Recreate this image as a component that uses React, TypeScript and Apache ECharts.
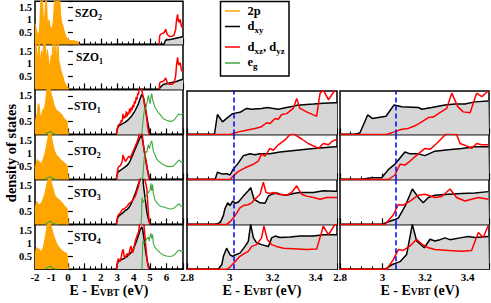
import React, { useEffect, useRef } from "react";
import * as echarts from "echarts";

const FONT = "'Liberation Serif', 'Times New Roman', Times, serif";
const ORANGE = "#ffa500";
const BLACK = "#000000";
const RED = "#ff0000";
const GREEN = "#3fa83f";
const GRAY = "#d6d6d6";
const BLUE = "#0000ff";

// ---------- labels ----------
const leftNames = ["SZO", "SZO", "STO", "STO", "STO", "STO"];
const leftSubs = ["2", "1", "1", "2", "3", "4"];
const legendNames = ["2p", "dxy", "dxz, dyz", "eg"];
const xTitleMain = "E - E";
const xTitleSub = "VBT";
const xTitleTail = " (eV)";
const yTitle = "density of states";

// vertical markers (eV)
const midMark = 3.015;
const rightMark = 3.055;

// ---------- left column data (E in eV, DOS) ----------
const szo2_2p = [[-2.0,0.85],[-1.95,0.7],[-1.9,0.55],[-1.85,0.45],[-1.8,0.4],[-1.75,0.5],[-1.7,0.9],[-1.65,1.9],[-1.6,1.3],[-1.55,2.0],[-1.5,1.1],[-1.45,0.9],[-1.4,1.2],[-1.35,2.0],[-1.3,1.9],[-1.25,0.9],[-1.2,0.75],[-1.15,1.0],[-1.1,0.8],[-1.05,0.55],[-1.0,0.7],[-0.95,0.6],[-0.9,0.9],[-0.85,1.3],[-0.8,2.0],[-0.75,1.4],[-0.7,2.0],[-0.65,1.2],[-0.6,2.0],[-0.55,1.5],[-0.5,2.0],[-0.45,1.3],[-0.4,1.0],[-0.35,0.85],[-0.3,0.75],[-0.25,0.6],[-0.2,0.5],[-0.15,0.4],[-0.1,0.3],[-0.05,0.28],[0.0,0.22],[0.1,0.17],[0.2,0.16],[0.3,0.17],[0.4,0.15],[0.5,0.14],[0.6,0.12],[0.65,0.05],[0.7,0]];
const szo2_dxy = [[2.8,0],[5.85,0],[5.9,0.12],[5.95,0.18],[6.1,0.2],[6.3,0.22],[6.5,0.25],[6.7,0.28],[6.85,0.3],[7.0,0.33]];
const szo2_dxz = [[5.55,0],[5.58,0.35],[5.65,0.42],[5.75,0.45],[5.85,0.48],[5.95,0.62],[6.02,0.45],[6.1,0.36],[6.2,0.33],[6.35,0.34],[6.45,0.38],[6.55,0.6],[6.6,0.95],[6.67,1.22],[6.72,0.95],[6.78,0.9],[6.83,1.02],[6.9,0.75],[6.95,0.7],[7.0,0.7]];

const szo1_2p = [[-2.0,2.0],[-1.95,1.9],[-1.9,1.5],[-1.85,1.25],[-1.8,1.4],[-1.75,1.9],[-1.7,1.3],[-1.65,1.1],[-1.6,1.5],[-1.55,1.2],[-1.5,1.6],[-1.45,1.9],[-1.4,2.0],[-1.35,1.4],[-1.3,1.2],[-1.25,1.55],[-1.2,1.3],[-1.15,1.0],[-1.1,0.9],[-1.05,1.2],[-1.0,1.35],[-0.95,1.1],[-0.9,1.9],[-0.85,1.3],[-0.8,1.5],[-0.75,1.95],[-0.7,1.4],[-0.65,1.2],[-0.6,1.8],[-0.55,1.1],[-0.5,1.0],[-0.45,0.8],[-0.4,0.7],[-0.35,0.6],[-0.3,0.5],[-0.25,0.35],[-0.2,0.28],[-0.1,0.15],[0.0,0.08],[0.05,0]];
const szo1_dxy = [[2.8,0],[5.55,0],[5.6,0.06],[5.7,0.14],[5.8,0.19],[5.9,0.21],[6.0,0.22],[6.2,0.25],[6.4,0.28],[6.6,0.31],[6.8,0.36],[7.0,0.4]];
const szo1_dxz = [[5.55,0],[5.58,0.25],[5.65,0.3],[5.75,0.3],[5.85,0.35],[5.95,0.45],[6.02,0.3],[6.1,0.22],[6.2,0.2],[6.35,0.2],[6.45,0.25],[6.55,0.5],[6.6,0.9],[6.67,1.25],[6.72,1.0],[6.78,0.95],[6.83,1.05],[6.9,0.78],[6.95,0.7],[7.0,0.72]];

const sto1_2p = [[-2.0,0.55],[-1.95,0.6],[-1.9,0.7],[-1.85,0.9],[-1.8,1.2],[-1.75,1.15],[-1.7,0.8],[-1.65,0.65],[-1.6,0.75],[-1.55,0.9],[-1.5,1.0],[-1.45,0.95],[-1.4,1.1],[-1.35,1.3],[-1.3,1.6],[-1.25,1.9],[-1.2,2.0],[-1.15,1.85],[-1.1,2.0],[-1.05,1.7],[-1.0,1.5],[-0.95,1.45],[-0.9,1.3],[-0.85,1.15],[-0.8,1.1],[-0.75,1.0],[-0.7,0.95],[-0.65,0.9],[-0.6,0.92],[-0.5,0.85],[-0.4,0.8],[-0.3,0.7],[-0.2,0.6],[-0.1,0.55],[-0.05,0.5],[0.0,0.15],[0.03,0]];
const sto1_dxy = [[2.8,0],[2.95,0],[2.98,0.15],[3.05,0.31],[3.15,0.36],[3.27,0.4],[3.47,0.47],[3.68,0.58],[3.88,0.72],[4.08,0.92],[4.29,1.19],[4.39,1.39],[4.49,1.55],[4.59,1.45],[4.69,1.12],[4.79,0.72],[4.9,0.31],[5.0,0],[7.0,0]];
const sto1_dxz = [[2.95,0],[3.0,0.2],[3.05,0.35],[3.1,0.38],[3.2,0.45],[3.25,0.55],[3.3,0.5],[3.35,0.8],[3.4,0.62],[3.45,0.72],[3.5,0.65],[3.55,0.9],[3.6,0.7],[3.65,0.85],[3.7,0.78],[3.75,1.0],[3.8,0.85],[3.85,1.05],[3.9,0.95],[3.95,1.15],[4.0,1.05],[4.05,1.3],[4.1,1.2],[4.15,1.45],[4.2,1.35],[4.25,1.6],[4.3,1.55],[4.35,1.9],[4.4,1.8],[4.45,2.0],[4.5,1.7],[4.55,1.55],[4.6,1.4],[4.65,1.2],[4.7,1.0],[4.75,0.85],[4.8,0.6],[4.85,0.3],[4.9,0.1],[4.95,0]];
const sto1_eg = [[-1.4,0],[-1.3,0.04],[-1.15,0.1],[-1.05,0.12],[-0.95,0.06],[-0.8,0.02],[-0.65,0],[-0.6,null],[4.4,0],[4.5,0.05],[4.55,0.4],[4.6,0.7],[4.65,0.95],[4.7,1.0],[4.75,1.05],[4.8,1.2],[4.85,1.4],[4.9,1.52],[4.95,1.3],[5.0,1.2],[5.05,1.45],[5.1,1.6],[5.15,1.35],[5.2,1.26],[5.3,1.05],[5.4,0.95],[5.5,0.85],[5.6,0.78],[5.7,0.7],[5.8,0.61],[6.0,0.55],[6.2,0.51],[6.4,0.53],[6.5,0.6],[6.6,0.68],[6.7,0.76],[6.75,0.8],[6.82,0.76],[6.9,0.78],[7.0,0.82]];

const sto2_2p = [[-2.0,0.45],[-1.95,0.55],[-1.9,0.7],[-1.85,0.78],[-1.8,0.72],[-1.7,0.68],[-1.6,0.6],[-1.5,0.8],[-1.4,1.0],[-1.3,1.3],[-1.25,1.5],[-1.2,1.65],[-1.15,1.9],[-1.1,2.0],[-1.05,1.85],[-1.0,1.7],[-0.95,1.5],[-0.9,1.35],[-0.85,1.2],[-0.8,1.1],[-0.7,0.95],[-0.6,0.9],[-0.5,0.82],[-0.4,0.75],[-0.3,0.7],[-0.2,0.65],[-0.1,0.58],[-0.05,0.55],[0.0,0.2],[0.03,0]];
const sto2_dxy = [[2.8,0],[2.95,0],[2.98,0.15],[3.05,0.3],[3.2,0.36],[3.4,0.45],[3.6,0.55],[3.7,0.62],[3.8,0.75],[3.9,0.9],[4.0,1.05],[4.1,1.2],[4.2,1.35],[4.3,1.5],[4.4,1.65],[4.48,1.72],[4.55,1.5],[4.65,1.1],[4.75,0.7],[4.85,0.35],[4.95,0.08],[5.0,0],[7.0,0]];
const sto2_dxz = [[2.95,0],[3.0,0.25],[3.05,0.45],[3.1,0.5],[3.2,0.55],[3.3,0.7],[3.35,0.95],[3.4,0.85],[3.5,0.7],[3.6,0.8],[3.7,0.9],[3.8,0.85],[3.9,1.0],[4.0,1.15],[4.1,1.3],[4.2,1.45],[4.3,1.65],[4.35,1.85],[4.4,2.0],[4.5,1.9],[4.55,1.6],[4.6,1.3],[4.7,0.9],[4.8,0.5],[4.9,0.15],[4.95,0]];
const sto2_eg = [[-1.4,0],[-1.3,0.04],[-1.15,0.09],[-1.05,0.11],[-0.95,0.06],[-0.8,0.02],[-0.65,0],[-0.6,null],[4.45,0],[4.55,0.1],[4.6,0.5],[4.65,0.9],[4.7,0.95],[4.75,1.1],[4.8,1.05],[4.85,1.25],[4.9,1.35],[4.95,1.2],[5.0,1.3],[5.05,1.45],[5.1,1.5],[5.15,1.3],[5.2,1.1],[5.3,0.95],[5.4,0.8],[5.5,0.72],[5.6,0.68],[5.7,0.62],[5.8,0.57],[6.0,0.52],[6.2,0.5],[6.4,0.52],[6.5,0.58],[6.6,0.65],[6.7,0.72],[6.78,0.76],[6.85,0.7],[6.95,0.66],[7.0,0.65]];

const sto3_2p = [[-2.0,0.55],[-1.95,0.75],[-1.9,0.9],[-1.85,0.85],[-1.8,0.75],[-1.7,0.8],[-1.6,0.85],[-1.5,1.0],[-1.4,1.2],[-1.3,1.5],[-1.2,1.8],[-1.15,2.0],[-1.1,1.9],[-1.05,2.0],[-1.0,1.6],[-0.9,1.4],[-0.8,1.15],[-0.7,1.05],[-0.6,1.0],[-0.5,0.95],[-0.4,0.88],[-0.3,0.8],[-0.2,0.72],[-0.1,0.65],[-0.05,0.62],[0.0,0.2],[0.03,0]];
const sto3_dxy = [[2.8,0],[2.95,0],[2.98,0.15],[3.05,0.3],[3.2,0.38],[3.35,0.45],[3.5,0.55],[3.6,0.58],[3.7,0.65],[3.8,0.75],[3.9,0.88],[4.0,1.05],[4.1,1.2],[4.2,1.4],[4.3,1.6],[4.4,1.75],[4.45,1.85],[4.55,1.9],[4.6,1.5],[4.7,1.0],[4.8,0.5],[4.9,0.2],[5.0,0],[7.0,0]];
const sto3_dxz = [[2.95,0],[3.0,0.2],[3.05,0.35],[3.1,0.4],[3.2,0.45],[3.3,0.58],[3.4,0.6],[3.5,0.65],[3.6,0.7],[3.7,0.8],[3.8,0.85],[3.9,0.9],[4.0,1.0],[4.1,1.1],[4.2,1.3],[4.3,1.5],[4.35,1.7],[4.4,1.9],[4.5,2.0],[4.6,1.9],[4.7,1.7],[4.8,1.4],[4.85,0.9],[4.9,0.4],[4.95,0.1],[5.0,0]];
const sto3_eg = [[-1.4,0],[-1.3,0.04],[-1.15,0.1],[-1.05,0.12],[-0.95,0.06],[-0.8,0.02],[-0.65,0],[-0.6,null],[4.45,0],[4.48,0.3],[4.5,0.9],[4.52,1.05],[4.55,0.85],[4.6,0.9],[4.7,1.0],[4.8,1.15],[4.9,1.25],[5.0,1.35],[5.05,1.6],[5.1,1.3],[5.15,1.55],[5.2,1.2],[5.3,0.95],[5.4,0.85],[5.5,0.78],[5.6,0.72],[5.8,0.68],[6.0,0.64],[6.2,0.6],[6.4,0.62],[6.5,0.66],[6.6,0.72],[6.7,0.78],[6.78,0.8],[6.85,0.72],[7.0,0.7]];

const sto4_2p = [[-2.0,0.6],[-1.95,0.72],[-1.9,0.85],[-1.85,0.82],[-1.8,0.78],[-1.75,0.8],[-1.7,0.72],[-1.6,0.7],[-1.5,0.85],[-1.4,1.15],[-1.3,1.55],[-1.25,1.8],[-1.2,2.0],[-1.1,2.0],[-1.05,1.75],[-1.0,1.65],[-0.9,1.38],[-0.8,1.2],[-0.7,1.04],[-0.6,0.9],[-0.5,0.84],[-0.4,0.75],[-0.3,0.7],[-0.2,0.66],[-0.1,0.64],[-0.05,0.6],[0.0,0.2],[0.03,0]];
const sto4_dxy = [[2.8,0],[2.95,0],[3.0,0.2],[3.05,0.3],[3.2,0.36],[3.4,0.42],[3.6,0.5],[3.7,0.57],[3.8,0.62],[3.9,0.7],[4.0,0.82],[4.1,0.98],[4.2,1.15],[4.3,1.35],[4.4,1.55],[4.5,1.65],[4.55,1.55],[4.65,1.1],[4.75,0.6],[4.85,0.25],[4.95,0.05],[5.0,0],[7.0,0]];
const sto4_dxz = [[2.97,0],[3.02,0.3],[3.07,0.42],[3.12,0.35],[3.17,0.3],[3.25,0.5],[3.32,0.72],[3.37,0.78],[3.42,0.5],[3.47,0.45],[3.55,0.55],[3.62,0.62],[3.7,0.55],[3.75,0.7],[3.8,0.85],[3.85,0.9],[3.9,0.7],[3.95,0.65],[4.0,0.8],[4.1,1.1],[4.2,1.3],[4.3,1.45],[4.35,1.7],[4.4,1.9],[4.5,2.0],[4.6,1.9],[4.7,1.2],[4.78,0.6],[4.85,0.2],[4.9,0.05],[4.95,0]];
const sto4_eg = [[-1.4,0],[-1.3,0.04],[-1.15,0.1],[-1.05,0.12],[-0.95,0.06],[-0.8,0.02],[-0.65,0],[-0.6,null],[4.5,0],[4.53,0.5],[4.55,1.1],[4.6,1.0],[4.7,1.05],[4.8,1.2],[4.9,1.25],[4.95,1.1],[5.0,1.3],[5.05,1.4],[5.1,1.2],[5.15,1.35],[5.2,1.0],[5.3,0.85],[5.4,0.78],[5.5,0.72],[5.6,0.65],[5.8,0.56],[6.0,0.52],[6.2,0.5],[6.4,0.53],[6.5,0.58],[6.6,0.65],[6.7,0.72],[6.8,0.74],[6.9,0.7],[7.0,0.72]];

// ---------- middle column (zoom near band edge, arbitrary units 0..1) ----------
const mid1_dxy = [[2.8,0],[2.928,0],[2.942,0.46],[2.966,0.29],[2.985,0.37],[3.013,0.48],[3.047,0.51],[3.078,0.6],[3.102,0.58],[3.148,0.6],[3.175,0.62],[3.203,0.6],[3.226,0.58],[3.265,0.62],[3.296,0.65],[3.312,0.67],[3.39,0.7],[3.436,0.72],[3.491,0.73],[3.5,0.73]];
const mid1_dxz = [[2.8,0],[3.001,0],[3.04,0.06],[3.078,0.1],[3.117,0.14],[3.148,0.18],[3.172,0.27],[3.187,0.25],[3.211,0.37],[3.226,0.35],[3.242,0.46],[3.265,0.48],[3.296,0.6],[3.312,0.83],[3.327,0.6],[3.358,0.52],[3.39,0.45],[3.405,0.42],[3.421,0.95],[3.436,1.02],[3.46,0.8],[3.491,1.02],[3.5,1.05]];
const mid2_dxy = [[2.8,0],[2.931,0],[2.942,0.16],[2.966,0.12],[2.985,0.13],[3.001,0.1],[3.016,0.23],[3.04,0.37],[3.063,0.53],[3.078,0.55],[3.094,0.57],[3.117,0.55],[3.141,0.57],[3.187,0.57],[3.234,0.61],[3.312,0.65],[3.39,0.69],[3.491,0.73],[3.5,0.73]];
const mid2_dxz = [[2.8,0],[3.001,0],[3.016,0.08],[3.04,0.18],[3.071,0.26],[3.11,0.34],[3.133,0.41],[3.148,0.57],[3.164,0.52],[3.187,0.69],[3.203,0.65],[3.226,0.77],[3.257,0.88],[3.281,1.0],[3.296,1.02],[3.335,0.9],[3.366,0.8],[3.397,0.73],[3.413,0.69],[3.436,0.8],[3.46,0.77],[3.475,0.84],[3.491,0.88],[3.5,0.88]];
const mid3_dxy = [[2.8,0],[2.931,0],[2.955,0.04],[2.97,0.2],[2.977,0.35],[2.99,0.48],[3.001,0.42],[3.013,0.52],[3.024,0.47],[3.04,0.5],[3.063,0.63],[3.086,0.75],[3.097,0.82],[3.113,0.56],[3.141,0.48],[3.164,0.47],[3.18,0.63],[3.195,0.67],[3.218,0.7],[3.234,0.67],[3.265,0.65],[3.296,0.69],[3.327,0.71],[3.39,0.71],[3.436,0.75],[3.491,0.74],[3.5,0.74]];
const mid3_dxz = [[2.8,0],[2.985,0],[3.001,0.06],[3.016,0.14],[3.032,0.25],[3.047,0.37],[3.063,0.42],[3.086,0.44],[3.102,0.48],[3.117,0.56],[3.141,0.67],[3.156,0.94],[3.169,0.71],[3.187,0.69],[3.203,0.71],[3.226,0.67],[3.265,0.65],[3.288,0.71],[3.312,0.86],[3.335,0.67],[3.358,0.63],[3.39,0.6],[3.421,0.56],[3.452,0.6],[3.491,0.6],[3.5,0.6]];
const mid4_dxy = [[2.8,0],[2.946,0],[2.962,0.1],[2.97,0.29],[2.985,0.47],[3.001,0.32],[3.013,0.29],[3.024,0.32],[3.047,0.36],[3.071,0.51],[3.086,0.62],[3.097,1.0],[3.11,0.7],[3.125,0.59],[3.148,0.55],[3.18,0.51],[3.195,0.7],[3.211,0.74],[3.234,0.71],[3.281,0.72],[3.327,0.74],[3.39,0.74],[3.436,0.77],[3.491,0.77],[3.5,0.77]];
const mid4_dxz = [[2.8,0],[2.985,0],[3.001,0.05],[3.024,0.17],[3.047,0.29],[3.071,0.36],[3.086,0.4],[3.102,0.51],[3.125,0.55],[3.148,0.7],[3.159,0.96],[3.175,0.66],[3.195,0.55],[3.218,0.51],[3.25,0.47],[3.296,0.46],[3.358,0.44],[3.405,0.45],[3.436,0.96],[3.46,0.77],[3.491,1.0],[3.5,1.0]];

// ---------- right column ----------
const right1_dxy = [[2.8,0],[2.87,0],[2.894,0.04],[2.93,0.45],[2.952,0.37],[2.98,0.39],[3.016,0.42],[3.054,0.68],[3.09,0.64],[3.168,0.62],[3.184,0.58],[3.231,0.62],[3.293,0.68],[3.34,0.7],[3.387,0.7],[3.434,0.75],[3.497,0.77],[3.5,0.77]];
const right1_dxz = [[2.8,0],[3.019,0],[3.055,0.06],[3.09,0.12],[3.121,0.14],[3.152,0.2],[3.184,0.29],[3.215,0.39],[3.238,0.4],[3.262,0.48],[3.301,0.6],[3.325,0.95],[3.353,0.64],[3.379,0.52],[3.411,0.5],[3.442,0.95],[3.466,0.87],[3.497,1.0],[3.5,1.0]];
const right2_dxy = [[2.8,0],[2.902,0],[2.925,0.02],[2.949,0.04],[2.996,0.04],[3.027,0.22],[3.058,0.34],[3.105,0.61],[3.129,0.57],[3.168,0.57],[3.199,0.53],[3.246,0.63],[3.309,0.66],[3.372,0.69],[3.434,0.73],[3.497,0.73],[3.5,0.73]];
const right2_dxz = [[2.8,0],[3.027,0],[3.058,0.1],[3.082,0.34],[3.105,0.32],[3.129,0.41],[3.168,0.57],[3.199,0.69],[3.223,0.67],[3.254,0.8],[3.285,0.95],[3.301,1.02],[3.348,1.0],[3.364,0.8],[3.403,0.73],[3.418,0.69],[3.442,0.8],[3.466,0.77],[3.497,0.77],[3.5,0.77]];
const right3_dxy = [[2.8,0],[2.996,0],[3.027,0.06],[3.058,0.11],[3.074,0.14],[3.105,0.4],[3.14,0.79],[3.168,0.6],[3.191,0.48],[3.215,0.6],[3.246,0.65],[3.309,0.67],[3.372,0.69],[3.434,0.7],[3.497,0.73],[3.5,0.73]];
const right3_dxz = [[2.8,0],[3.011,0],[3.05,0.21],[3.074,0.44],[3.097,0.43],[3.129,0.52],[3.168,0.65],[3.199,0.67],[3.246,0.6],[3.278,0.62],[3.317,0.79],[3.348,0.6],[3.387,0.52],[3.418,0.56],[3.45,0.6],[3.497,0.56],[3.5,0.56]];
const right4_dxy = [[2.8,0],[3.011,0],[3.043,0.1],[3.082,0.17],[3.113,0.33],[3.14,1.0],[3.16,0.63],[3.196,0.48],[3.223,0.67],[3.246,0.63],[3.27,0.66],[3.293,0.7],[3.317,0.66],[3.364,0.7],[3.403,0.73],[3.434,0.71],[3.497,0.73],[3.5,0.73]];
const right4_dxz = [[2.8,0],[3.019,0],[3.05,0.21],[3.074,0.44],[3.097,0.42],[3.129,0.52],[3.16,0.67],[3.184,0.56],[3.215,0.48],[3.246,0.44],[3.309,0.42],[3.372,0.4],[3.418,0.42],[3.45,0.82],[3.473,0.71],[3.497,0.98],[3.5,0.98]];

const leftSets = [
  { p2: szo2_2p, dxy: szo2_dxy, dxz: szo2_dxz, eg: null },
  { p2: szo1_2p, dxy: szo1_dxy, dxz: szo1_dxz, eg: null },
  { p2: sto1_2p, dxy: sto1_dxy, dxz: sto1_dxz, eg: sto1_eg },
  { p2: sto2_2p, dxy: sto2_dxy, dxz: sto2_dxz, eg: sto2_eg },
  { p2: sto3_2p, dxy: sto3_dxy, dxz: sto3_dxz, eg: sto3_eg },
  { p2: sto4_2p, dxy: sto4_dxy, dxz: sto4_dxz, eg: sto4_eg },
];
const midSets = [
  { dxy: mid1_dxy, dxz: mid1_dxz },
  { dxy: mid2_dxy, dxz: mid2_dxz },
  { dxy: mid3_dxy, dxz: mid3_dxz },
  { dxy: mid4_dxy, dxz: mid4_dxz },
];
const rightSets = [
  { dxy: right1_dxy, dxz: right1_dxz },
  { dxy: right2_dxy, dxz: right2_dxz },
  { dxy: right3_dxy, dxz: right3_dxz },
  { dxy: right4_dxy, dxz: right4_dxz },
];

// ---------- layout ----------
const BOTTOM = 269.3;
const leftTops = [1.2, 44.6, 89.4, 134.5, 179.5, 224.4];
const sideTops = [91, 134.5, 179.5, 224.4];
const LEFT_COL = { left: 35, width: 148 };
const MID_COL = { left: 187, width: 150 };
const RIGHT_COL = { left: 340, width: 149 };

const labelStyle = { fontFamily: FONT, fontWeight: "bold", fontSize: 11, color: "#000" };

function buildOption() {
  const grid: any[] = [];
  const xAxis: any[] = [];
  const yAxis: any[] = [];
  const series: any[] = [];

  const addGrid = (col: any, top: number, h: number) => {
    grid.push({
      left: col.left, top, width: col.width, height: h,
      show: true, borderColor: "#000", borderWidth: 1.5, backgroundColor: "transparent",
      containLabel: false, outerBoundsMode: "none",
    });
    return grid.length - 1;
  };
  const line = (data: any, xi: number, yi: number, color: string, width: number, area?: string, extra?: any) => {
    series.push({
      type: "line", xAxisIndex: xi, yAxisIndex: yi, data,
      symbol: "none", showSymbol: false, silent: true, clip: true,
      lineStyle: { color, width }, itemStyle: { color },
      areaStyle: area ? { color: area, opacity: 1 } : undefined,
      emphasis: { disabled: true },
      ...(extra || {}),
    });
  };

  // left column
  leftTops.forEach((t, i) => {
    const h = (i < leftTops.length - 1 ? leftTops[i + 1] : BOTTOM) - t;
    const gi = addGrid(LEFT_COL, t, h);
    const isBottom = i === leftTops.length - 1;
    xAxis.push({
      type: "value", gridIndex: gi, min: -2, max: 7, interval: 1,
      axisLine: { show: false }, splitLine: { show: false },
      axisTick: { show: true, inside: true, length: 6, lineStyle: { color: "#000", width: 1.2 } },
      minorTick: { show: true, splitNumber: 3, length: 3, lineStyle: { color: "#000", width: 1 } },
      axisLabel: { show: isBottom, margin: 2, ...labelStyle, formatter: (v: number) => (v > 6.5 ? "" : String(v)) },
    });
    const xi = xAxis.length - 1;
    yAxis.push({
      type: "value", gridIndex: gi, min: 0, max: 1.75, interval: 0.5,
      axisLine: { show: false }, splitLine: { show: false },
      axisTick: { show: true, inside: true, length: 5, lineStyle: { color: "#000", width: 1.2 } },
      axisLabel: { show: true, margin: 3, ...labelStyle, fontSize: 10.5, formatter: (v: number) => (v <= 0 || v > 1.6 ? "" : String(v)) },
    });
    const yi = yAxis.length - 1;
    const s = leftSets[i];
    line(s.p2, xi, yi, ORANGE, 1, ORANGE);
    line(s.dxy, xi, yi, BLACK, 1.5, GRAY);
    line(s.dxz, xi, yi, RED, 1.5);
    if (s.eg) line(s.eg, xi, yi, GREEN, 1.1);
  });

  // middle & right columns
  const side = (col: any, sets: any[], mark: number) => {
    sideTops.forEach((t, i) => {
      const h = (i < sideTops.length - 1 ? sideTops[i + 1] : BOTTOM) - t;
      const gi = addGrid(col, t, h);
      const isBottom = i === sideTops.length - 1;
      xAxis.push({
        type: "value", gridIndex: gi, min: 2.8, max: 3.5, interval: 0.05, position: "bottom",
        axisLine: { show: false }, splitLine: { show: false },
        axisTick: { show: true, inside: true, length: 3, lineStyle: { color: "#000", width: 1 } },
        axisLabel: {
          show: isBottom, margin: 2, ...labelStyle,
          formatter: (v: number) => {
            const k = v / 0.2;
            if (Math.abs(k - Math.round(k)) > 1e-4 || v > 3.45) return "";
            return String(Math.round(v * 10) / 10);
          },
        },
      });
      const xi = xAxis.length - 1;
      xAxis.push({
        type: "value", gridIndex: gi, min: 2.8, max: 3.5, interval: 0.2, position: "bottom",
        axisLine: { show: false }, splitLine: { show: false }, axisLabel: { show: false },
        axisTick: { show: true, inside: true, length: 6, lineStyle: { color: "#000", width: 1.2 } },
      });
      yAxis.push({ type: "value", gridIndex: gi, min: 0, max: 1, show: false, splitLine: { show: false } });
      const yi = yAxis.length - 1;
      const s = sets[i];
      line(s.dxy, xi, yi, BLACK, 1.5, GRAY, {
        markLine: {
          silent: true, symbol: ["none", "none"], label: { show: false },
          lineStyle: { color: BLUE, type: [5, 3], width: 1.5 },
          data: [{ xAxis: mark }],
        },
      });
      line(s.dxz, xi, yi, RED, 1.5);
    });
  };
  side(MID_COL, midSets, midMark);
  side(RIGHT_COL, rightSets, rightMark);

  // graphic texts
  const richText = (main: number, sub: number, lh: number, slh: number) => ({
    m: { fontFamily: FONT, fontWeight: "bold", fontSize: main, lineHeight: lh, fill: "#000" },
    s: { fontFamily: FONT, fontWeight: "bold", fontSize: sub, lineHeight: slh, verticalAlign: "bottom", fill: "#000" },
  });
  const labelPos = [[75, 13.3], [76, 57.3], [74, 106], [74, 151], [74, 192.5], [74, 236.7]];
  const graphics: any[] = [];
  leftNames.forEach((n, i) => {
    graphics.push({
      type: "text", x: labelPos[i][0], y: labelPos[i][1], silent: true,
      style: { text: `{m|${n}}{s|${leftSubs[i]}}`, rich: richText(11.5, 8, 17, 8), align: "left", verticalAlign: "middle" },
    });
  });
  // axis titles
  [[109, 290.5], [262, 290], [420, 290]].forEach(([x, y]) => {
    graphics.push({
      type: "text", x, y, silent: true,
      style: { text: `{m|${xTitleMain}}{s|${xTitleSub}}{m|${xTitleTail}}`, rich: richText(14, 9.5, 14, 7), align: "center", verticalAlign: "middle" },
    });
  });
  graphics.push({
    type: "text", x: 10.5, y: 153, rotation: Math.PI / 2, silent: true,
    style: { text: yTitle, fontFamily: FONT, fontWeight: "bold", fontSize: 14.5, fill: "#000", align: "center", verticalAlign: "middle" },
  });
  // legend
  graphics.push({
    type: "rect", silent: true, shape: { x: 220.5, y: 1.5, width: 68.5, height: 74.5 },
    style: { fill: "#fff", stroke: "#000", lineWidth: 1.5 }, z: 10,
  });
  const legColors = [ORANGE, BLACK, RED, GREEN];
  const legLineY = [11, 26.5, 47, 63];
  const legTextY = [10.5, 25.5, 46.5, 61.5];
  const legTexts = ["{m|2p}", "{m|d}{s|xy}", "{m|d}{s|xz}{m|, d}{s|yz}", "{m|e}{s|g}"];
  legendNames.forEach((_, i) => {
    graphics.push({
      type: "line", silent: true, z: 11, shape: { x1: 225, y1: legLineY[i], x2: 240, y2: legLineY[i] },
      style: { stroke: legColors[i], lineWidth: 1.5 },
    });
    graphics.push({
      type: "text", silent: true, z: 11, x: 247.5, y: legTextY[i],
      style: { text: legTexts[i], rich: richText(12.5, 9, 18, 9), align: "left", verticalAlign: "middle" },
    });
  });

  return {
    animation: false,
    backgroundColor: "#fff",
    grid, xAxis, yAxis, series,
    graphic: graphics,
  };
}

export default function App() {
  const ref = useRef<HTMLDivElement>(null);
  useEffect(() => {
    if (!ref.current) return;
    const chart = echarts.init(ref.current, null, { renderer: "svg" });
    chart.setOption(buildOption() as any);
    return () => chart.dispose();
  }, []);
  return (
    <div
      ref={ref}
      style={{ position: "fixed", left: 0, top: 0, width: 491, height: 303, background: "#fff" }}
    />
  );
}
